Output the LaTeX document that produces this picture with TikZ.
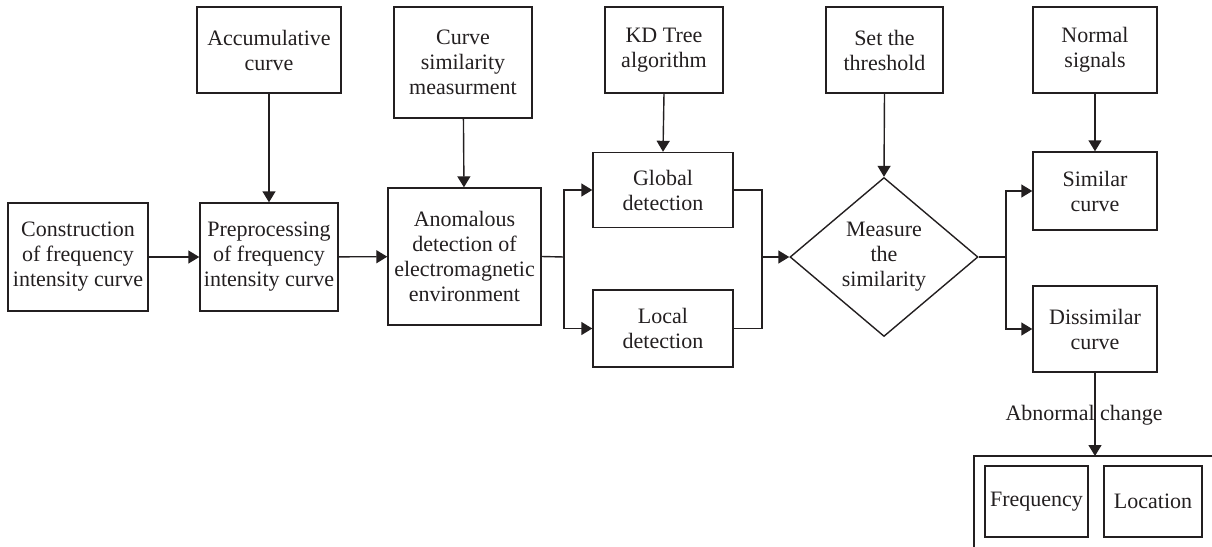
\documentclass[tikz,border=0pt]{standalone}
\usepackage{fontspec}
\setmainfont{Liberation Serif}
\usetikzlibrary{arrows.meta,shapes.geometric}
\definecolor{ink}{HTML}{231F20}
\begin{document}
\begin{tikzpicture}[x=0.5pt,y=-0.5pt,line width=0.7pt,draw=ink,text=ink,
  font=\fontsize{11}{12.5}\selectfont,
  box/.style={draw, align=center, inner sep=1pt},
  arr/.style={-{Triangle[length=5.5pt,width=6.5pt]}}]
\useasboundingbox (0,0) rectangle (1212,547);
\node[box, minimum width=70pt, minimum height=54pt] (a) at (78,257) {Construction\\of frequency\\intensity curve};
\node[box, minimum width=69pt, minimum height=54pt] (b) at (269,257) {Preprocessing\\of frequency\\intensity curve};
\node[box, minimum width=76.5pt, minimum height=68.5pt] (c) at (464.5,256.5) {Anomalous\\detection of\\electromagnetic\\environment};
\node[box, minimum width=72pt, minimum height=43pt] (acc) at (269,50) {Accumulative\\curve};
\node[box, minimum width=69pt, minimum height=55.5pt] (sim) at (463,62.5) {Curve\\similarity\\measurment};
\node[box, minimum width=59pt, minimum height=43pt] (kd) at (664,50) {KD Tree\\algorithm};
\node[box, minimum width=58.5pt, minimum height=43pt] (thr) at (884.5,50) {Set the\\threshold};
\node[box, minimum width=62pt, minimum height=43pt] (nor) at (1095,50) {Normal\\signals};
\node[box, minimum width=70pt, minimum height=37.5pt] (glo) at (663,190) {Global\\detection};
\node[box, minimum width=70pt, minimum height=38.5pt] (loc) at (663,328.5) {Local\\detection};
\node[draw, diamond, align=center, inner sep=0pt, minimum width=94pt, minimum height=79.5pt] (mea) at (884,257) {Measure\\the\\similarity};
\node[box, minimum width=62pt, minimum height=39pt] (scu) at (1095,191) {Similar\\curve};
\node[box, minimum width=62pt, minimum height=43pt] (dcu) at (1095,329) {Dissimilar\\curve};
\node[box, minimum width=51.5pt, minimum height=35.5pt] (fre) at (1036.5,501.5) {Frequency};
\node[box, minimum width=49pt, minimum height=35.5pt] (lo) at (1153,501.5) {Location};
\node (abn) at (1084,415) {Abnormal change};
\coordinate (s1) at (564,257);
\coordinate (m1) at (762,257);
\coordinate (s2) at (1006,257);
\coordinate (out) at (1095,456);
\draw[arr] (a) -- (b);
\draw[arr] (b) -- (c);
\draw[arr] (acc) -- (b);
\draw[arr] (sim) -- (c);
\draw[arr] (kd.south) -- (glo.north);
\draw[arr] (thr.south) -- (mea.north);
\draw[arr] (nor) -- (scu);
\draw (c.east) -- (s1);
\draw[arr] (s1) |- (glo.west);
\draw[arr] (s1) |- (loc.west);
\draw (glo.east) -| (m1);
\draw (loc.east) -| (m1);
\draw[arr] (m1) -- (mea.west);
\draw (mea.east) -- (s2);
\draw[arr] (s2) |- (scu.west);
\draw[arr] (s2) |- (dcu.west);
\draw[arr] (dcu.south) -- (out);
\draw (1212,456) -| (974,547);
\end{tikzpicture}
\end{document}
